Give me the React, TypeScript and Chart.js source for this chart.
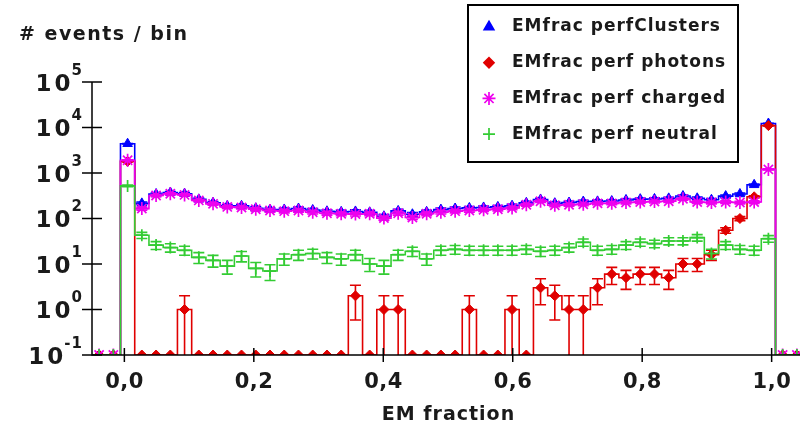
import React, { useEffect, useRef } from 'react';
import { Chart, registerables } from 'chart.js';
import { drawPoint } from 'chart.js/helpers';

Chart.register(...registerables);

// ---- histogram binning (50 bins from -0.05 to 1.05) ----
const BIN_LO = -0.05;
const BIN_WIDTH = 0.022;
const X_MIN = -0.05;
const X_MAX = 1.05;
const Y_MIN = 0.1;
const Y_MAX = 1e5;

// ---- series values (events per bin) ----
const CLUSTERS = [0, 0, 4400, 215, 346, 373, 351, 264, 222, 189, 190, 168, 157, 158, 166, 154, 144, 140, 143, 137, 112, 147, 124, 140, 157, 166, 171, 175, 180, 191, 221, 262, 217, 224, 236, 238, 242, 256, 266, 269, 277, 312, 278, 258, 311, 346, 550, 12250, 0, 0];
const PHOTONS = [0, 0, 1800, 0, 0, 0, 1, 0, 0, 0, 0, 0, 0, 0, 0, 0, 0, 0, 2, 0, 1, 1, 0, 0, 0, 0, 1, 0, 0, 1, 0, 3, 2, 1, 1, 3, 6, 5, 6, 6, 5, 10, 10, 16, 55, 100, 300, 11000, 0, 0];
const CHARGED = [0, 0, 1900, 165, 320, 350, 330, 250, 210, 180, 175, 160, 150, 145, 150, 137, 130, 127, 125, 127, 102, 130, 105, 127, 137, 145, 150, 155, 160, 170, 200, 240, 195, 200, 205, 215, 215, 225, 230, 235, 240, 270, 230, 225, 230, 225, 230, 1200, 0, 0];
const NEUTRAL = [0, 0, 520, 43, 26, 23, 20, 14, 12, 9, 15, 8, 7, 13, 16, 17, 14, 13, 16, 10, 9, 16, 19, 13, 20, 21, 20, 20, 20, 20, 21, 19, 20, 23, 30, 20, 21, 26, 30, 28, 32, 32, 38, 17, 26, 21, 20, 36, 0, 0];

const SERIES_NAMES = ['EMfrac perfClusters', 'EMfrac perf photons', 'EMfrac perf charged', 'EMfrac perf neutral'];
const SERIES_VALUES = [CLUSTERS, PHOTONS, CHARGED, NEUTRAL];
const SERIES_COLORS = ['#0000ff', '#e00000', '#ee00ee', '#33cc33'];
const SERIES_MARKERS = ['triangle', 'rectRot', 'star', 'cross'];
const MARKER_RADIUS = [5.5, 5, 6.5, 6];

// ---- axis ticks ----
const X_TICKS = [0, 0.2, 0.4, 0.6, 0.8, 1.0];
const X_TICK_LABELS = ['0,0', '0,2', '0,4', '0,6', '0,8', '1,0'];
const Y_TICK_EXPONENTS = [-1, 0, 1, 2, 3, 4, 5];

const X_TITLE = 'EM fraction';
const Y_TITLE = '# events / bin';

const FONT = '"DejaVu Sans", "Liberation Sans", sans-serif';
const TEXT_COLOR = '#1a1a1a';

const binEdge = (k: number) => BIN_LO + k * BIN_WIDTH;
const binCenter = (k: number) => BIN_LO + (k + 0.5) * BIN_WIDTH;

function buildDatasets() {
  const ds: any[] = [];
  SERIES_VALUES.forEach((vals, i) => {
    const outline: { x: number; y: number }[] = [];
    const pts: { x: number; y: number }[] = [];
    vals.forEach((v, k) => {
      const yy = v > 0 ? v : Y_MIN;
      outline.push({ x: binEdge(k), y: yy });
      outline.push({ x: binEdge(k + 1), y: yy });
      pts.push({ x: binCenter(k), y: yy });
    });
    ds.push({
      label: SERIES_NAMES[i],
      data: outline,
      borderColor: SERIES_COLORS[i],
      borderWidth: 1.6,
      pointRadius: 0,
      fill: false,
      tension: 0,
      order: 10 - 2 * i,
      clip: 0,
      errValues: vals,
    });
    ds.push({
      label: SERIES_NAMES[i] + ' markers',
      data: pts,
      showLine: false,
      pointStyle: SERIES_MARKERS[i],
      pointRadius: MARKER_RADIUS[i],
      pointBackgroundColor: SERIES_COLORS[i],
      pointBorderColor: SERIES_COLORS[i],
      pointBorderWidth: i >= 2 ? 1.7 : 1,
      order: 9 - 2 * i,
      clip: 0,
    });
  });
  return ds;
}

const errorBarPlugin = {
  id: 'errorBars',
  afterDatasetDraw(chart: any, args: any) {
    const ds = chart.data.datasets[args.index];
    if (!ds.errValues) return;
    const { ctx, chartArea } = chart;
    const x = chart.scales.x;
    const y = chart.scales.y;
    ctx.save();
    ctx.beginPath();
    ctx.rect(chartArea.left, chartArea.top, chartArea.right - chartArea.left, chartArea.bottom - chartArea.top);
    ctx.clip();
    ctx.strokeStyle = ds.borderColor;
    ctx.lineWidth = 1.6;
    const cap = 5.5;
    ds.errValues.forEach((v: number, k: number) => {
      if (v <= 0) return;
      const e = Math.sqrt(v);
      const px = x.getPixelForValue(binCenter(k));
      const top = y.getPixelForValue(v + e);
      const lo = v - e;
      const bot = lo > 0 ? y.getPixelForValue(lo) : chartArea.bottom + 10;
      ctx.beginPath();
      ctx.moveTo(px, top);
      ctx.lineTo(px, bot);
      ctx.moveTo(px - cap, top);
      ctx.lineTo(px + cap, top);
      if (lo > 0) {
        ctx.moveTo(px - cap, bot);
        ctx.lineTo(px + cap, bot);
      }
      ctx.stroke();
    });
    ctx.restore();
  },
};

function spacedText(ctx: any, text: string, x: number, y: number, spacing: number, align: 'left' | 'center' | 'right') {
  ctx.letterSpacing = `${spacing}px`;
  const w = ctx.measureText(text).width - spacing;
  let left = x;
  if (align === 'center') left = x - w / 2;
  else if (align === 'right') left = x - w;
  ctx.textAlign = 'left';
  ctx.fillText(text, left, y);
  ctx.letterSpacing = '0px';
  return w;
}

const axesPlugin = {
  id: 'axesAndLegend',
  afterDatasetsDraw(chart: any) {
    const { ctx, chartArea } = chart;
    const x = chart.scales.x;
    const y = chart.scales.y;
    ctx.save();
    ctx.strokeStyle = '#000';
    ctx.lineWidth = 1.5;
    // axis lines
    ctx.beginPath();
    ctx.moveTo(chartArea.left, chartArea.top);
    ctx.lineTo(chartArea.left, chartArea.bottom);
    ctx.lineTo(chartArea.right, chartArea.bottom);
    ctx.stroke();
    // y ticks + labels
    ctx.fillStyle = TEXT_COLOR;
    ctx.textBaseline = 'middle';
    Y_TICK_EXPONENTS.forEach((ex) => {
      const py = y.getPixelForValue(Math.pow(10, ex));
      ctx.beginPath();
      ctx.moveTo(chartArea.left - 10, py);
      ctx.lineTo(chartArea.left + 10, py);
      ctx.stroke();
      const sup = String(ex);
      ctx.font = `bold 15px ${FONT}`;
      const supRight = chartArea.left - 10;
      const supW = spacedText(ctx, sup, supRight, py - 11, 1, 'right');
      ctx.font = `bold 23px ${FONT}`;
      spacedText(ctx, '10', supRight - supW - 1, py + 3, 3, 'right');
    });
    // x ticks + labels
    X_TICKS.forEach((v, i) => {
      const px = x.getPixelForValue(v);
      ctx.beginPath();
      ctx.moveTo(px, chartArea.bottom - 7);
      ctx.lineTo(px, chartArea.bottom + 7);
      ctx.stroke();
      ctx.font = `bold 21px ${FONT}`;
      spacedText(ctx, X_TICK_LABELS[i], px, 383, 0.5, 'center');
    });
    // titles
    ctx.font = `bold 19px ${FONT}`;
    spacedText(ctx, X_TITLE, 448, 415, 1, 'center');
    spacedText(ctx, Y_TITLE, 19, 35, 1.5, 'left');

    // legend
    const bx = 468, by = 5, bw = 270, bh = 157;
    ctx.fillStyle = '#fff';
    ctx.fillRect(bx, by, bw, bh);
    ctx.strokeStyle = '#000';
    ctx.lineWidth = 2;
    ctx.strokeRect(bx, by, bw, bh);
    SERIES_NAMES.forEach((name, i) => {
      const ly = 27 + i * 35.7;
      ctx.fillStyle = SERIES_COLORS[i];
      ctx.strokeStyle = SERIES_COLORS[i];
      ctx.lineWidth = 1.7;
      drawPoint(ctx, { pointStyle: SERIES_MARKERS[i], radius: MARKER_RADIUS[i], rotation: 0, borderWidth: 1.7 } as any, 489, ly);
      ctx.fillStyle = TEXT_COLOR;
      ctx.font = `bold 17px ${FONT}`;
      spacedText(ctx, name, 512, ly, 1, 'left');
    });
    ctx.restore();
  },
};

export default function App() {
  const ref = useRef<HTMLCanvasElement>(null);
  useEffect(() => {
    const canvas = ref.current;
    if (!canvas) return;
    const chart = new Chart(canvas, {
      type: 'line',
      data: { datasets: buildDatasets() },
      options: {
        animation: false,
        responsive: false,
        events: [],
        layout: { padding: { left: 92, right: 26, top: 82, bottom: 76 } },
        scales: {
          x: { type: 'linear', min: X_MIN, max: X_MAX, display: false },
          y: { type: 'logarithmic', min: Y_MIN, max: Y_MAX, display: false },
        },
        plugins: { legend: { display: false }, tooltip: { enabled: false } },
      },
      plugins: [errorBarPlugin, axesPlugin],
    } as any);
    return () => chart.destroy();
  }, []);
  return (
    <div style={{ position: 'absolute', left: 0, top: 0, width: 800, height: 431, overflow: 'hidden', background: '#fff' }}>
      <canvas ref={ref} width={830} height={431} style={{ display: 'block' }} />
    </div>
  );
}
